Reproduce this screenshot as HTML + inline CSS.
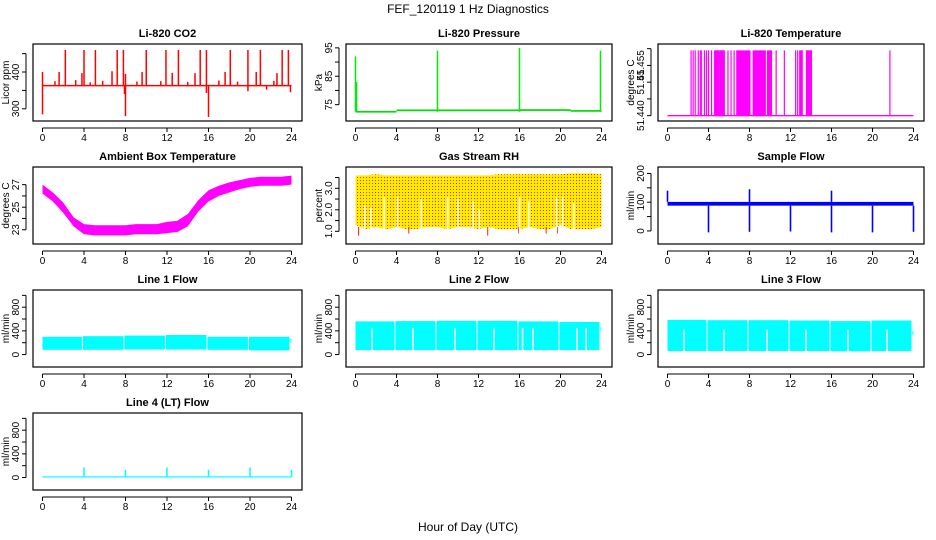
<!DOCTYPE html>
<html><head><meta charset="utf-8">
<style>
html,body{margin:0;padding:0;background:#fff;}
svg{display:block;font-family:"Liberation Sans",Arial,sans-serif;}
.t{font-size:11px;font-weight:bold;text-anchor:middle;}
.k{font-size:10px;text-anchor:middle;}
</style></head>
<body>
<svg id="c" width="936" height="540" viewBox="0 0 936 540" xmlns="http://www.w3.org/2000/svg">
<defs>
<pattern id="rhdots" width="3" height="3" patternUnits="userSpaceOnUse">
<rect width="3" height="3" fill="#ffee00"/><rect x="0" y="0" width="1" height="1" fill="#ff2000"/>
</pattern>
</defs>
<text x="468" y="13" font-size="12" text-anchor="middle">FEF_120119  1 Hz Diagnostics</text>
<text x="468" y="531" font-size="12" text-anchor="middle">Hour of Day (UTC)</text>
</svg>
<script>
// ---- data ----
const xTicks = [0,4,8,12,16,20,24];
const co2Base = 363;
const co2SpikeHours = [2.2,4.0,5.1,7.2,7.8,10.0,11.9,13.1,15.2,15.8,18.1,19.8,21.0,23.1,23.7, 0.0,1.6,3.8,6.7,8.0,9.6,12.5,14.7,17.6,20.6,22.6, 0.0,8.0,16.0,7.9,15.8,19.8,23.9, 1.2,3.2,4.6,5.8,9.1,11.4,14.0,17.0,18.8,21.6,22.3];
const co2SpikeValues = [460,460,460,460,460,460,460,460,460,460,460,460,460,460,460, 400,400,397,402,395,400,398,397,400,400,397, 285,280,278,340,343,348,345, 375,378,372,376,374,375,373,377,374,352,376];
const presBreaks = [0,4,16,21,24];
const presLevels = [72.5,73.0,73.1,72.8];
const presSpikeHours = [0,0.1,8,16,23.9];
const presSpikeValues = [92,83,94,95,94];
const tempBase = 51.440;
const tempHigh = 51.4595;
const tempLineHours = [2.3,2.5,2.7,3.0,3.2,3.3,3.6,3.8,4.0,4.3,4.6,4.8,5.0,5.1,5.3,5.5,5.9,6.2,6.5,10.6,11.4,12.5,12.7,12.9,13.1,13.6,13.8,14.0,21.7];
const tempBlockStart = [4.6,5.1,6.7,8.3,9.7,12.9,13.5];
const tempBlockEnd = [5.0,5.6,8.1,9.6,10.2,13.2,14.1];
const ambHours = [0,1,2,3,4,5,6,7,8,9,10,11,12,13,14,15,16,17,18,19,20,21,22,23,24];
const ambLow = [26.2,25.5,24.5,23.3,22.6,22.5,22.5,22.5,22.5,22.6,22.6,22.6,22.7,22.8,23.3,24.6,25.5,26.0,26.3,26.6,26.8,26.9,26.9,26.9,27.0];
const ambHigh = [27.0,26.3,25.4,24.1,23.5,23.4,23.4,23.4,23.4,23.5,23.5,23.5,23.7,23.8,24.4,25.6,26.5,26.9,27.2,27.4,27.6,27.7,27.7,27.7,27.8];
const rhHigh = [3.6,3.6,3.65,3.6,3.6,3.6,3.6,3.6,3.6,3.6,3.6,3.6,3.6,3.6,3.65,3.65,3.65,3.65,3.65,3.65,3.65,3.7,3.7,3.7,3.65];
const rhLow = [1.3,1.1,1.2,1.1,1.2,1.1,1.1,1.2,1.2,1.1,1.2,1.2,1.1,1.2,1.1,1.1,1.1,1.2,1.1,1.1,1.3,1.1,1.1,1.1,1.2];
const rhDipHours = [0.3,5.2,12.9,15.9,18.6,19.7];
const rhDipValues = [0.8,0.9,0.8,0.9,0.9,0.9];
const rhGapHours = [0.9,1.5,2.8,4.1,6.4,9.0,10.0,11.5,12.1,16.0,16.9,19.6,20.2,21.3];
const rhGapValues = [2.2,2.1,2.6,2.6,2.5,2.6,2.5,2.4,2.0,2.6,2.4,2.6,2.6,2.3];
const sfLow = 88, sfHigh = 101;
const sfDipHours = [4,8,12,16,20,24];
const sfDipValues = [-5,-3,-2,-5,-5,-3];
const sfSpikeHours = [0,8,16];
const sfSpikeValues = [140,145,140];
const segStart = [0,3.9,7.9,11.9,15.9,19.9,23.9];
const segEnd = [3.8,7.8,11.8,15.8,19.8,23.8,24];
const l1Low = [80,80,85,85,80,70,200];
const l1High = [300,310,320,330,300,300,270];
const l2Low = [75,75,75,75,75,75,400];
const l2High = [560,565,570,570,560,550,460];
const l2GapHours = [1.6,5.6,9.7,13.5,16.3,17.3,21.6,22.5];
const l3Low = [60,60,60,60,55,60,330];
const l3High = [585,580,580,575,565,575,400];
const l3GapHours = [1.6,5.5,9.7,13.5,17.6,21.4];
const l4SpikeHours = [4,8,12,16,20,24];
const l4SpikeValues = [170,130,170,130,170,130];

// ---- layout ----
const svg = document.getElementById('c');
const NS = 'http://www.w3.org/2000/svg';
const colL = [33,346,658], colR = [302,612,924];
const rowT = [44,167,290,413], rowB = [121,244,367,490];
function mk(tag, attrs, parent){ const e=document.createElementNS(NS,tag); for(const k in attrs) e.setAttribute(k,attrs[k]); (parent||svg).appendChild(e); return e; }

function panel(col,row,title,ylab,ymin,ymax,yticks,ylabels,name,fs){
  const L=colL[col],R=colR[col],T=rowT[row],B=rowB[row];
  const g=mk('g',{});
  
  
  const x0=L+9.5,x1=R-10.5;
  const xs=h=>x0+(h/24)*(x1-x0);
  const ys=v=>B-3-(v-ymin)/(ymax-ymin)*(B-T-6);
  const t=mk('text',{x:(L+R)/2,y:T-7,class:'t'},g); t.textContent=title;
  
  
  const box=mk('rect',{x:L,y:T,width:R-L,height:B-T,fill:'none',stroke:'#000','stroke-width':1.2},g);
  
  
  const xa=mk('g',{},g);
  
  
  mk('line',{x1:xs(0),x2:xs(24),y1:B+7,y2:B+7,stroke:'#000'},xa);
  xTicks.forEach(h=>{ mk('line',{x1:xs(h),x2:xs(h),y1:B+7,y2:B+11,stroke:'#000'},xa);
    const tx=mk('text',{x:xs(h),y:B+20,class:'k'},xa); tx.textContent=h;
    
     });
  const ya=mk('g',{},g);
  
  
  mk('line',{x1:L-7,x2:L-7,y1:ys(yticks[0]),y2:ys(yticks[yticks.length-1]),stroke:'#000'},ya);
  yticks.forEach((v,i)=>{ mk('line',{x1:L-11,x2:L-7,y1:ys(v),y2:ys(v),stroke:'#000'},ya);
    if(ylabels[i]){ const yy=ys(v); const tx=mk('text',{x:L-14,y:yy,class:'k',transform:`rotate(-90 ${L-14} ${yy})`},ya); tx.textContent=ylabels[i];
      if(fs) tx.setAttribute('font-size',fs);
      
       } });
  const yc=(T+B)/2;
  const yl=mk('text',{x:L-24,y:yc,class:'k',transform:`rotate(-90 ${L-24} ${yc})`},g); yl.textContent=ylab;
  
  
  const d=mk('g',{},g);
  
  
  return {xs,ys,d};
}
function vline(p,h,a,b,c,w){ const l=mk('line',{x1:p.xs(h),x2:p.xs(h),y1:p.ys(a),y2:p.ys(b),stroke:c,'stroke-width':w||1.2},p.d);
    return l; }
function hrect(p,h0,h1,lo,hi,c){ const x=p.xs(h0),y=p.ys(hi); const r=mk('rect',{x:x,y:y,width:Math.max(1,p.xs(h1)-x),height:Math.max(1,p.ys(lo)-y),fill:c},p.d);
    return r; }

// CO2
let p=panel(0,0,'Li-820 CO2','Licor ppm',275,468,[300,350,400,450],['300','','400',''],'co2');
co2SpikeHours.forEach((h,i)=>vline(p,h,co2Base,co2SpikeValues[i],'#ff0000',1.5));
hrect(p,0,24,co2Base-2,co2Base+2,'#ff0000');

// Pressure
p=panel(1,0,'Li-820 Pressure','kPa',70.3,95.3,[75,80,85,90,95],['75','','85','','95'],'pressure');
presLevels.forEach((v,i)=>hrect(p,presBreaks[i],presBreaks[i+1],v-0.3,v+0.3,'#00dd00'));
presSpikeHours.forEach((h,i)=>vline(p,h,72.5,presSpikeValues[i],'#00ee00',1.5));

// Li-820 temperature
p=panel(2,0,'Li-820 Temperature','degrees C',51.4393,51.4605,[51.440,51.445,51.450,51.455,51.460],['51.440','','51.45','51.455',''],'li820-temp','9');
hrect(p,0,24,tempBase-0.0002,tempBase+0.0002,'#ff00ff');
tempLineHours.forEach(h=>vline(p,h,tempBase,tempHigh,'#ff00ff',1.2));
tempBlockStart.forEach((h,i)=>hrect(p,h,tempBlockEnd[i],tempBase,tempHigh,'#ff00ff'));

// Ambient box temperature
p=panel(0,1,'Ambient Box Temperature','degrees C',22.0,28.3,[23,24,25,26,27],['23','','25','','27'],'ambient-temp');
{ let top=ambHours.map((h,i)=>p.xs(h)+','+p.ys(ambHigh[i])).join(' ');
  let bot=ambHours.slice().reverse().map((h,j)=>{const i=ambHours.length-1-j; return p.xs(h)+','+p.ys(ambLow[i]);}).join(' ');
  const pg=mk('polygon',{points:top+' '+bot,fill:'#ff00ff'},p.d);
    }

// Gas stream RH
p=panel(1,1,'Gas Stream RH','percent',0.55,3.85,[1.0,1.5,2.0,2.5,3.0,3.5],['1.0','','2.0','','3.0',''],'gas-rh');
{ let top=ambHours.map((h,i)=>p.xs(h)+','+p.ys(rhHigh[i])).join(' ');
  let bot=ambHours.slice().reverse().map((h,j)=>{const i=ambHours.length-1-j; return p.xs(h)+','+p.ys(rhLow[i]);}).join(' ');
  const pg=mk('polygon',{points:top+' '+bot,fill:'url(#rhdots)'},p.d);
    }
rhDipHours.forEach((h,i)=>vline(p,h,1.2,rhDipValues[i],'#ff2000',1));
rhGapHours.forEach((h,i)=>vline(p,h,0.9,rhGapValues[i],'#ffffff',1.5));

// Sample flow
p=panel(2,1,'Sample Flow','ml/min',-35,212,[0,50,100,150,200],['0','','100','','200'],'sample-flow');
hrect(p,0,24,sfLow,sfHigh,'#0000ff');
sfDipHours.forEach((h,i)=>vline(p,h,sfLow,sfDipValues[i],'#0000ff',1.6));
sfSpikeHours.forEach((h,i)=>vline(p,h,sfHigh,sfSpikeValues[i],'#0000ff',1.6));

// Line flows
const flowTicks=[0,200,400,600,800,1000], flowLabels=['0','','400','','800',''];
p=panel(0,2,'Line 1 Flow','ml/min',-160,1040,flowTicks,flowLabels,'line1-flow');
segStart.forEach((h,i)=>hrect(p,h,segEnd[i],l1Low[i],l1High[i],'#00ffff'));
p=panel(1,2,'Line 2 Flow','ml/min',-160,1040,flowTicks,flowLabels,'line2-flow');
segStart.forEach((h,i)=>hrect(p,h,segEnd[i],l2Low[i],l2High[i],'#00ffff'));
l2GapHours.forEach(h=>vline(p,h,70,450,'#ffffff',1.5));
p=panel(2,2,'Line 3 Flow','ml/min',-160,1040,flowTicks,flowLabels,'line3-flow');
segStart.forEach((h,i)=>hrect(p,h,segEnd[i],l3Low[i],l3High[i],'#00ffff'));
l3GapHours.forEach(h=>vline(p,h,60,420,'#ffffff',1.5));
p=panel(0,3,'Line 4 (LT) Flow','ml/min',-160,1040,flowTicks,flowLabels,'line4-flow');
hrect(p,0,24,0,20,'#00ffff');
l4SpikeHours.forEach((h,i)=>vline(p,h,10,l4SpikeValues[i],'#00ffff',1.5));
</script>
</body></html>
